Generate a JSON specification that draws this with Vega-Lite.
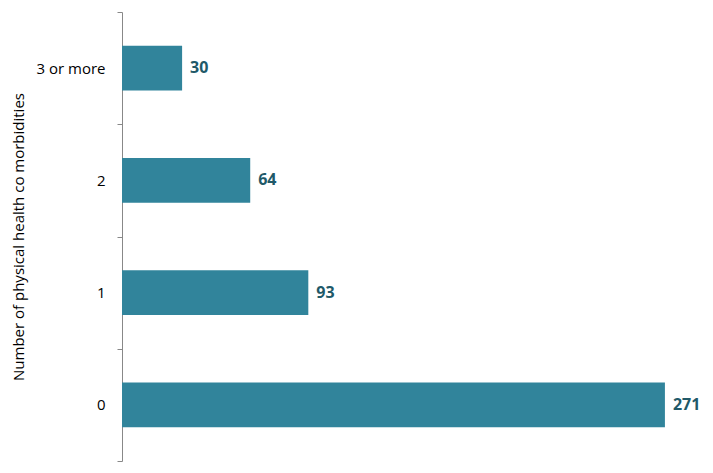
{
  "$schema": "https://vega.github.io/schema/vega-lite/v6.json",
  "width": 591,
  "height": 449,
  "autosize": "none",
  "padding": {"left": 122, "top": 12, "right": 0, "bottom": 12},
  "background": "#ffffff",
  "data": {
    "values": [
      {"comorbidities": "3 or more", "count": 30},
      {"comorbidities": "2", "count": 64},
      {"comorbidities": "1", "count": 93},
      {"comorbidities": "0", "count": 271}
    ]
  },
  "encoding": {
    "y": {
      "field": "comorbidities",
      "type": "nominal",
      "sort": ["3 or more", "2", "1", "0"],
      "title": "Number of physical health co morbidities",
      "scale": {"paddingInner": 0, "paddingOuter": 0},
      "axis": {
        "tickBand": "extent",
        "tickSize": 5,
        "tickColor": "#888888",
        "domainColor": "#888888",
        "labelPadding": 12,
        "labelFontSize": 15,
        "labelColor": "#000000",
        "labelFont": "Open Sans",
        "titleFont": "Open Sans",
        "titleFontSize": 15,
        "titleFontWeight": "normal",
        "titleColor": "#000000",
        "titlePadding": 10
      }
    },
    "x": {
      "field": "count",
      "type": "quantitative",
      "scale": {"domain": [0, 295], "nice": false},
      "axis": null
    }
  },
  "layer": [
    {
      "mark": {"type": "bar", "color": "#31849B", "height": {"band": 0.4}}
    },
    {
      "mark": {
        "type": "text",
        "align": "left",
        "dx": 8,
        "font": "Open Sans",
        "fontSize": 16,
        "fontWeight": "bold",
        "color": "#215968"
      },
      "encoding": {"text": {"field": "count", "type": "quantitative"}}
    }
  ],
  "config": {
    "view": {"stroke": null}
  }
}
